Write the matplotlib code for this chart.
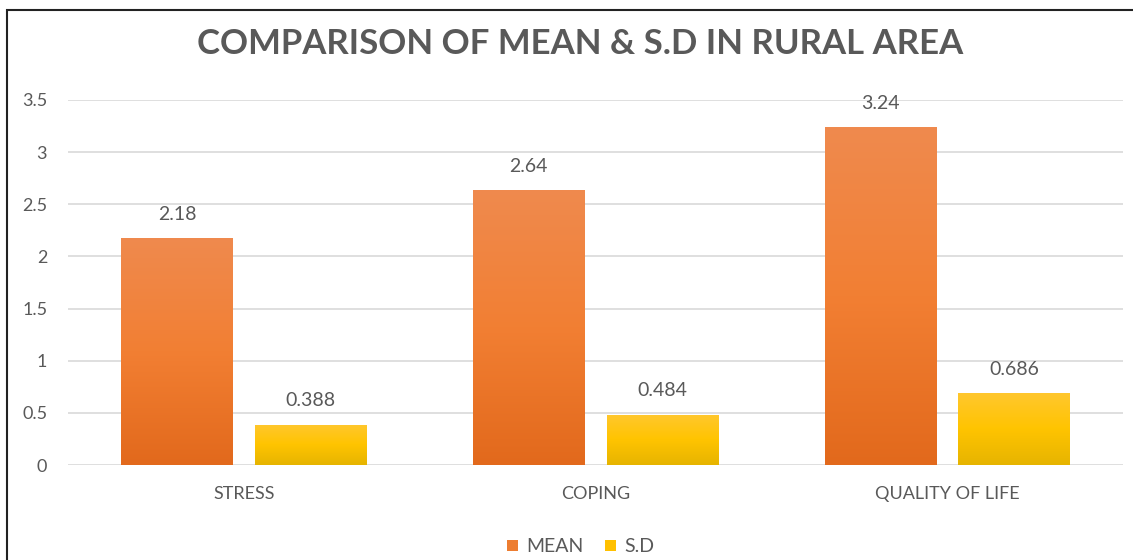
import numpy as np
import matplotlib
matplotlib.use("Agg")
import matplotlib.pyplot as plt
from matplotlib.patches import Rectangle
from matplotlib.colors import LinearSegmentedColormap

categories = ["STRESS", "COPING", "QUALITY OF LIFE"]
mean_vals = [2.18, 2.64, 3.24]
sd_vals = [0.388, 0.484, 0.686]
mean_labels = ["2.18", "2.64", "3.24"]
sd_labels = ["0.388", "0.484", "0.686"]
yticks = [0, 0.5, 1, 1.5, 2, 2.5, 3, 3.5]
ytick_labels = ["0", "0.5", "1", "1.5", "2", "2.5", "3", "3.5"]

plt.rcParams['font.family'] = ['Lato', 'DejaVu Sans']
W, H = 1133, 560
fig = plt.figure(figsize=(W / 100, H / 100), dpi=100)
ax = fig.add_axes([68 / W, 1 - 465 / H, (1123 - 68) / W, (465 - 100) / H])

x = np.arange(len(categories))
bw = 0.316
off = 0.19
grey = "#595959"

b1 = ax.bar(x - off, mean_vals, bw, color="#ED7D31", zorder=3, label="MEAN")
b2 = ax.bar(x + off, sd_vals, bw, color="#FFC000", zorder=3, label="S.D")

cm_orange = LinearSegmentedColormap.from_list("o", ["#E2691C", "#F27F33", "#EF8A4E"])
cm_yellow = LinearSegmentedColormap.from_list("y", ["#E6B400", "#FFC400", "#FFC72E"])
grad = np.linspace(0, 1, 256).reshape(-1, 1)
for bars, cmap in ((b1, cm_orange), (b2, cm_yellow)):
    for r in bars:
        x0, y0 = r.get_x(), r.get_y()
        im = ax.imshow(grad, cmap=cmap, origin="lower", aspect="auto",
                       extent=[x0, x0 + r.get_width(), y0, y0 + r.get_height()],
                       zorder=3.5)
        im.set_clip_path(r)

for r, lab in zip(b1, mean_labels):
    ax.annotate(lab, (r.get_x() + r.get_width() / 2, r.get_height()),
                xytext=(0, 17), textcoords="offset points", ha="center", va="center",
                fontsize=14, color=grey)
for r, lab in zip(b2, sd_labels):
    ax.annotate(lab, (r.get_x() + r.get_width() / 2, r.get_height()),
                xytext=(0, 17), textcoords="offset points", ha="center", va="center",
                fontsize=14, color=grey)

ax.set_xlim(-0.5, len(categories) - 0.5)
ax.set_ylim(0, 3.5)
ax.set_yticks(yticks)
ax.set_yticklabels(ytick_labels)
ax.set_xticks(x)
ax.set_xticklabels(categories)
ax.tick_params(axis="y", length=0, pad=15, labelsize=13, labelcolor=grey)
ax.tick_params(axis="x", length=0, pad=15, labelsize=13, labelcolor=grey)
ax.grid(axis="y", color="#D9D9D9", linewidth=1.2, zorder=0)
ax.set_axisbelow(True)
for s in ax.spines.values():
    s.set_visible(False)

fig.text(580 / W, 1 - 44.5 / H, "COMPARISON OF MEAN & S.D IN RURAL AREA", ha="center", va="center",
         fontsize=25, fontweight="bold", color=grey)

leg = fig.legend(handles=[b1, b2], labels=["MEAN", "S.D"], loc="center",
                 bbox_to_anchor=(581 / W, 1 - 547 / H), ncol=2, frameon=False,
                 fontsize=14, handlelength=0.55, handleheight=0.55, handletextpad=0.45,
                 columnspacing=1.1, labelcolor=grey)

fig.patches.append(Rectangle((7 / W, -0.1), 1.2, 1 - 10 / H + 0.1, transform=fig.transFigure,
                             fill=False, edgecolor="#222222", linewidth=1.5))

fig.savefig("out.png", dpi=100, facecolor="white")
